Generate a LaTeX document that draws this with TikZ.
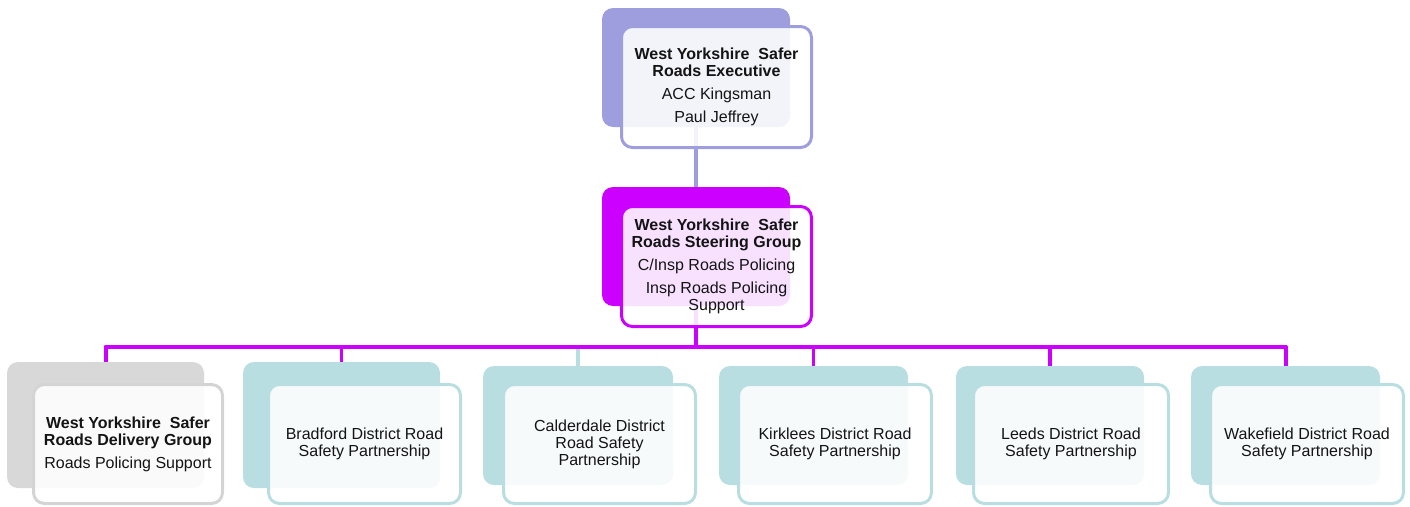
\documentclass[tikz,border=0pt]{standalone}
\usepackage{fontspec}
\setmainfont{Liberation Sans}
\definecolor{lav}{RGB}{158,158,222}
\definecolor{mag}{RGB}{204,0,255}
\definecolor{tealc}{RGB}{184,222,226}
\definecolor{greyc}{RGB}{216,216,216}
\definecolor{greyb}{RGB}{212,212,212}
\definecolor{ink}{RGB}{20,20,20}
\begin{document}
\begin{tikzpicture}[x=1pt,y=-1pt,
  backbox/.style={rounded corners=11pt, fill=#1, draw=none, inner sep=0pt},
  frontbox/.style={draw=#1, line width=3pt, fill=white, fill opacity=0.88,
    text opacity=1, rounded corners=11pt, inner sep=0pt, align=center,
    text=ink, font=\fontsize{16}{17}\selectfont},
  conn/.style={draw=#1, line width=3.5pt},
  busline/.style={draw=mag, line width=4pt, line join=round}]
\useasboundingbox (0,0) rectangle (1410,506);

% back panels
\node[backbox=lav, minimum width=188pt, minimum height=119pt] (tback) at (696,67.5) {};
\node[backbox=mag, minimum width=188pt, minimum height=119pt] (mback) at (696,246.5) {};
\node[backbox=greyc, minimum width=197pt, minimum height=126pt] (b1back) at (105.5,425) {};
\node[backbox=tealc, minimum width=197pt, minimum height=126pt] (b2back) at (341.5,425) {};
\node[backbox=tealc, minimum width=190pt, minimum height=119pt] (b3back) at (578,425.5) {};
\node[backbox=tealc, minimum width=189pt, minimum height=119pt] (b4back) at (813.5,425.5) {};
\node[backbox=tealc, minimum width=188pt, minimum height=119pt] (b5back) at (1050,425.5) {};
\node[backbox=tealc, minimum width=189pt, minimum height=119pt] (b6back) at (1285.5,425.5) {};

% connectors
\coordinate (bus) at (0,346.5);
\draw[conn=lav] (tback.south) -- (mback.north);
\draw[conn=tealc] (b3back.north) -- (b3back.north |- bus);
\draw[conn=mag] (mback.south) -- (mback.south |- bus);
\draw[busline] (b1back.north) |- (bus -| b6back.north) -- (b6back.north);
\draw[conn=mag] (b2back.north) -- (b2back.north |- bus);
\draw[conn=mag] (b4back.north) -- (b4back.north |- bus);
\draw[conn=mag] (b5back.north) -- (b5back.north |- bus);

% front panels
\node[frontbox=lav, minimum width=190pt, minimum height=121pt] (top) at (716.5,87)
  {\textbf{West Yorkshire\ \ Safer}\\\textbf{Roads Executive}\\[6pt]ACC Kingsman\\[6pt]Paul Jeffrey};
\node[frontbox=mag, minimum width=190pt, minimum height=120pt] (mid) at (716.5,266.5)
  {\textbf{West Yorkshire\ \ Safer}\\\textbf{Roads Steering Group}\\[6pt]C/Insp Roads Policing\\[6pt]Insp Roads Policing\\Support};
\node[frontbox=greyb, minimum width=189pt, minimum height=119pt] (b1) at (128,444)
  {\textbf{West Yorkshire\ \ Safer}\\\textbf{Roads Delivery Group}\\[6pt]Roads Policing Support};
\node[frontbox=tealc, minimum width=192pt, minimum height=119pt] (b2) at (364.5,444)
  {Bradford District Road\\Safety Partnership};
\node[frontbox=tealc, minimum width=192pt, minimum height=119pt] (b3) at (599.5,444)
  {Calderdale District\\Road Safety\\Partnership};
\node[frontbox=tealc, minimum width=193pt, minimum height=119pt] (b4) at (835,444)
  {Kirklees District Road\\Safety Partnership};
\node[frontbox=tealc, minimum width=195pt, minimum height=119pt] (b5) at (1071,444)
  {Leeds District Road\\Safety Partnership};
\node[frontbox=tealc, minimum width=193pt, minimum height=119pt] (b6) at (1307,444)
  {Wakefield District Road\\Safety Partnership};
\end{tikzpicture}
\end{document}
